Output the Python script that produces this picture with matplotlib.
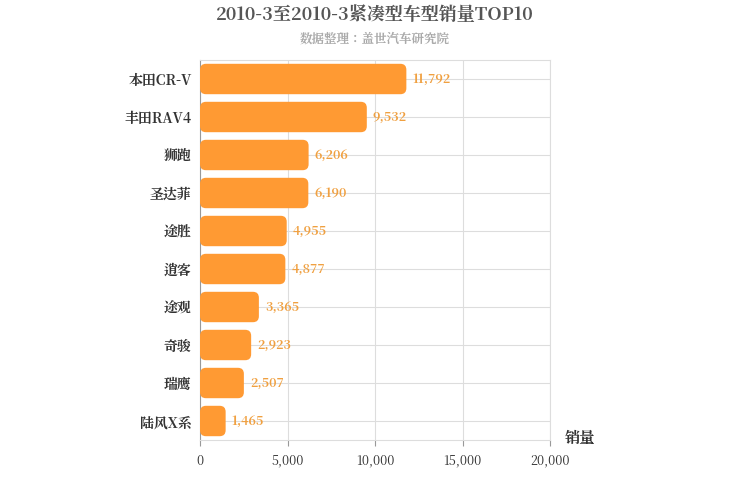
import matplotlib
matplotlib.use("Agg")
import matplotlib.pyplot as plt
from matplotlib.patches import FancyBboxPatch
from matplotlib import font_manager as fm

cjk = None
for f in fm.fontManager.ttflist:
    if "CJK" in f.name and ("SC" in f.name or cjk is None):
        cjk = f.name
        if "SC" in f.name:
            break
if cjk is None:
    import glob
    for path in glob.glob("/usr/share/fonts/**/*CJK*", recursive=True):
        try:
            fm.fontManager.addfont(path)
            cjk = fm.FontProperties(fname=path).get_name()
            break
        except Exception:
            pass
plt.rcParams["font.family"] = [cjk or "Noto Sans CJK SC", "DejaVu Sans"]

categories = ["本田CR-V", "丰田RAV4", "狮跑", "圣达菲", "途胜", "逍客", "途观", "奇骏", "瑞鹰", "陆风X系"]
values = [11792, 9532, 6206, 6190, 4955, 4877, 3365, 2923, 2507, 1465]
xticks = [0, 5000, 10000, 15000, 20000]

fig = plt.figure(figsize=(7.5, 5), dpi=100)
ax = fig.add_axes([200/750, 1-440/500, 350/750, 380/500])
ax.set_xlim(0, 20000)
ax.set_ylim(len(categories) - 0.5, -0.5)
color = "#ff9a33"
h = 0.8
rs = 340
asp = (6/38) / rs
for i, v in enumerate(values):
    p = FancyBboxPatch((0, i - h/2), v, h, boxstyle=f"round,pad=0,rounding_size={rs}",
                       mutation_aspect=asp, fc=color, ec="none", zorder=3)
    ax.add_patch(p)
    ax.text(v + 350, i, f"{v:,}", va="center", ha="left", color="#f0a040",
            fontsize=9, fontweight="bold", zorder=4)
ax.set_yticks(range(len(categories)))
ax.set_yticklabels(categories, fontsize=10, fontweight="bold", color="#333333")
ax.set_xticks(xticks)
ax.set_xticklabels([f"{t:,}" for t in xticks], fontsize=9, color="#333333")
ax.grid(True, color="#dddddd", lw=0.8, zorder=0)
for s in ax.spines.values():
    s.set_color("#dddddd")
ax.spines["left"].set_color("#999999")
ax.tick_params(axis="both", length=0, pad=6)
ax.tick_params(axis="x", length=4, color="#999999")
ax.set_axisbelow(True)
fig.text(580/750, 1-438/500, "销量", ha="center", va="center", fontsize=11, fontweight="bold", color="#333333")
fig.text(375/750, 1-15/500, "2010-3至2010-3紧凑型车型销量TOP10", ha="center", va="center",
         fontsize=13, fontweight="bold", color="#555555")
fig.text(375/750, 1-39/500, "数据整理：盖世汽车研究院", ha="center", va="center",
         fontsize=9, fontweight="bold", color="#aaaaaa")
fig.savefig("out.png", dpi=100)
